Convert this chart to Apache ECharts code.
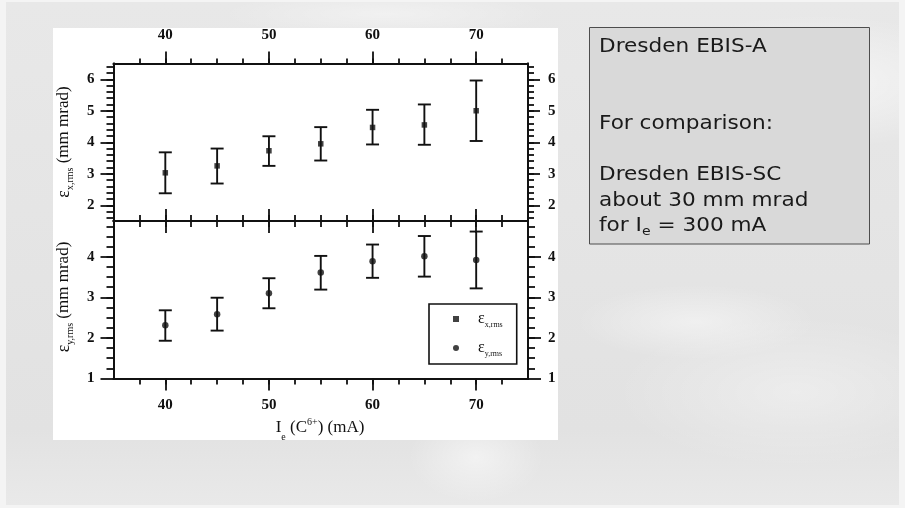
<!DOCTYPE html>
<html>
<head>
<meta charset="utf-8">
<script src="https://cdn.jsdelivr.net/npm/echarts@6/dist/echarts.min.js"></script>
<style>
  html, body { margin: 0; padding: 0; width: 905px; height: 508px; overflow: hidden; background: #f4f4f4; }
  #slide {
    position: absolute; left: 6px; top: 2px; width: 893px; height: 503px;
    background:
      radial-gradient(ellipse 240px 90px at 810px 80px, rgba(255,255,255,0.6), rgba(255,255,255,0) 75%),
      radial-gradient(ellipse 160px 50px at 690px 320px, rgba(255,255,255,0.45), rgba(255,255,255,0) 75%),
      radial-gradient(ellipse 240px 100px at 790px 390px, rgba(255,255,255,0.35), rgba(255,255,255,0) 75%),
      radial-gradient(ellipse 90px 60px at 470px 455px, rgba(255,255,255,0.5), rgba(255,255,255,0) 75%),
      radial-gradient(ellipse 220px 30px at 380px 12px, rgba(255,255,255,0.4), rgba(255,255,255,0) 75%),
      linear-gradient(180deg, #e8e8e8 0%, #e4e4e4 55%, #e2e2e2 85%, #e9e9e9 100%);
  }
  #panel { position: absolute; left: 53px; top: 28px; width: 505px; height: 412px; background: #ffffff; }
  #chart { position: absolute; left: 0; top: 0; width: 905px; height: 508px; }
</style>
</head>
<body>
<div id="slide"></div>
<div id="panel"></div>
<div id="chart"></div>
<script>
// Electron current I_e (mA)
const currents = [40, 45, 50, 55, 60, 65, 70];

// Horizontal rms emittance (mm mrad) with error-bar limits
const emitX     = [3.03, 3.25, 3.73, 3.95, 4.47, 4.55, 5.00];
const emitXLow  = [2.38, 2.69, 3.25, 3.42, 3.93, 3.92, 4.04];
const emitXHigh = [3.68, 3.80, 4.19, 4.48, 5.03, 5.20, 5.96];

// Vertical rms emittance (mm mrad) with error-bar limits
const emitY     = [2.31, 2.58, 3.10, 3.61, 3.89, 4.01, 3.92];
const emitYLow  = [1.93, 2.18, 2.73, 3.19, 3.48, 3.51, 3.22];
const emitYHigh = [2.68, 2.99, 3.47, 4.02, 4.30, 4.51, 4.62];

// Tick labels
const xTickLabels = [40, 50, 60, 70];
const yTopTickLabels = [2, 3, 4, 5, 6];
const yBottomTickLabels = [1, 2, 3, 4];

const INK = '#111111';
const SERIF = '"Liberation Serif", "DejaVu Serif", serif';
const SANS = '"DejaVu Sans", Verdana, sans-serif';

function steps(a, b, s) {
  const out = [];
  for (let v = a; v <= b + 1e-9; v += s) out.push(+v.toFixed(4));
  return out;
}
const xMinor = steps(37.5, 72.5, 2.5);
const yTopMinor = steps(1.6, 6.4, 0.2);
const yBottomMinor = steps(1.25, 4.75, 0.25);

const lineStyle = { color: INK, width: 1.8 };
const labelStyle = { color: INK, fontFamily: SERIF, fontSize: 15, fontWeight: 'bold' };

function xAxis(grid, position, ticks, len, inside, labels, margin) {
  return {
    type: 'value', gridIndex: grid, position, min: 35, max: 75,
    axisLine: { show: true, onZero: false, lineStyle },
    axisTick: { show: true, inside, length: len, customValues: ticks, lineStyle },
    axisLabel: labels ? Object.assign({ show: true, customValues: labels, margin }, labelStyle) : { show: false },
    splitLine: { show: false }
  };
}
function yAxis(grid, position, min, max, ticks, len, labels, margin) {
  return {
    type: 'value', gridIndex: grid, position, min, max,
    axisLine: { show: true, onZero: false, lineStyle },
    axisTick: { show: true, inside: false, length: len, customValues: ticks, lineStyle },
    axisLabel: labels ? Object.assign({ show: true, customValues: labels, margin }, labelStyle) : { show: false },
    splitLine: { show: false }
  };
}

const xAxes = [
  // upper panel
  xAxis(0, 'top', xTickLabels, 12, false, xTickLabels, 21),
  xAxis(0, 'top', xMinor, 5, false, null),
  xAxis(0, 'bottom', xTickLabels, 12, true, null),
  xAxis(0, 'bottom', xMinor, 6, true, null),
  // lower panel
  xAxis(1, 'top', xTickLabels, 12, true, null),
  xAxis(1, 'top', xMinor, 6, true, null),
  xAxis(1, 'bottom', xTickLabels, 12, false, xTickLabels, 19),
  xAxis(1, 'bottom', xMinor, 6, false, null)
];
const yAxes = [
  // upper panel
  yAxis(0, 'left', 1.5, 6.5, yTopTickLabels, 13, yTopTickLabels, 19),
  yAxis(0, 'left', 1.5, 6.5, yTopMinor, 7, null),
  yAxis(0, 'right', 1.5, 6.5, yTopTickLabels, 12, yTopTickLabels, 20),
  yAxis(0, 'right', 1.5, 6.5, yTopMinor, 6, null),
  // lower panel
  yAxis(1, 'left', 1, 4.88, yBottomTickLabels, 13, yBottomTickLabels, 19),
  yAxis(1, 'left', 1, 4.88, yBottomMinor, 7, null),
  yAxis(1, 'right', 1, 4.88, yBottomTickLabels, 13, yBottomTickLabels, 20),
  yAxis(1, 'right', 1, 4.88, yBottomMinor, 7, null)
];

function errorBars(params, api) {
  const x = api.value(0);
  const lo = api.coord([x, api.value(1)]);
  const hi = api.coord([x, api.value(2)]);
  const cap = 6.5;
  const style = { stroke: INK, lineWidth: 1.9 };
  return {
    type: 'group',
    children: [
      { type: 'line', shape: { x1: hi[0], y1: hi[1], x2: lo[0], y2: lo[1] }, style },
      { type: 'line', shape: { x1: hi[0] - cap, y1: hi[1], x2: hi[0] + cap, y2: hi[1] }, style },
      { type: 'line', shape: { x1: lo[0] - cap, y1: lo[1], x2: lo[0] + cap, y2: lo[1] }, style }
    ]
  };
}

const nameX = 'ε x,rms';
const nameY = 'ε y,rms';

const titleRich = {
  e: { fontSize: 18, fontFamily: SERIF, fill: INK },
  s: { fontSize: 10, fontFamily: SERIF, fill: INK, padding: [13, 0, 0, 0] },
  t: { fontSize: 17, fontFamily: SERIF, fill: INK },
  p: { fontSize: 10, fontFamily: SERIF, fill: INK, padding: [0, 0, 12, 0] },
  b: { fontSize: 10, fontFamily: SERIF, fill: INK, padding: [18, 0, 0, 0] }
};

const option = {
  animation: false,
  grid: [
    { left: 113.5, top: 63.5, width: 414.5, height: 157.5 },
    { left: 113.5, top: 221, width: 414.5, height: 157.5 }
  ],
  xAxis: xAxes,
  yAxis: yAxes,
  legend: {
    data: [{ name: nameX, icon: 'rect' }, { name: nameY, icon: 'circle' }],
    orient: 'vertical',
    left: 429, top: 304,
    itemWidth: 6, itemHeight: 6, itemGap: 11,
    padding: [7, 14, 6, 24],
    borderColor: INK, borderWidth: 1.6,
    selectedMode: false,
    formatter: n => n === nameX ? '{g|}{e|ε}{s|x,rms}' : '{g|}{e|ε}{s|y,rms}',
    textStyle: {
      color: INK, fontFamily: SERIF,
      rich: {
        g: { width: 14 },
        e: { fontSize: 16, fontFamily: SERIF, color: INK },
        s: { fontSize: 8, fontFamily: SERIF, color: INK, padding: [12, 0, 0, 0] }
      }
    }
  },
  series: [
    {
      name: 'x error', type: 'custom', xAxisIndex: 0, yAxisIndex: 0,
      renderItem: errorBars, encode: { x: 0, y: [1, 2] }, z: 2,
      data: currents.map((c, i) => [c, emitXLow[i], emitXHigh[i]])
    },
    {
      name: nameX, type: 'scatter', xAxisIndex: 0, yAxisIndex: 0,
      symbol: 'rect', symbolSize: 5.5, itemStyle: { color: INK }, z: 3,
      data: currents.map((c, i) => [c, emitX[i]])
    },
    {
      name: 'y error', type: 'custom', xAxisIndex: 4, yAxisIndex: 4,
      renderItem: errorBars, encode: { x: 0, y: [1, 2] }, z: 2,
      data: currents.map((c, i) => [c, emitYLow[i], emitYHigh[i]])
    },
    {
      name: nameY, type: 'scatter', xAxisIndex: 4, yAxisIndex: 4,
      symbol: 'circle', symbolSize: 6.5, itemStyle: { color: INK }, z: 3,
      data: currents.map((c, i) => [c, emitY[i]])
    }
  ],
  graphic: [
    // axis titles
    {
      type: 'text', x: 64, y: 142, rotation: Math.PI / 2,
      style: {
        text: '{e|ε}{s|x,rms}{t| (mm mrad)}',
        align: 'center', verticalAlign: 'middle', textAlign: 'center', textVerticalAlign: 'middle',
        fill: INK, rich: titleRich
      }
    },
    {
      type: 'text', x: 64, y: 297, rotation: Math.PI / 2,
      style: {
        text: '{e|ε}{s|y,rms}{t| (mm mrad)}',
        align: 'center', verticalAlign: 'middle', textAlign: 'center', textVerticalAlign: 'middle',
        fill: INK, rich: titleRich
      }
    },
    {
      type: 'text', x: 320, y: 428,
      style: {
        text: '{t|I}{b|e}{t| (C}{p|6+}{t|) (mA)}',
        align: 'center', verticalAlign: 'middle', textAlign: 'center', textVerticalAlign: 'middle',
        fill: INK, rich: titleRich
      }
    },
    // note box
    {
      type: 'rect', shape: { x: 589.5, y: 27.5, width: 280, height: 216.5 },
      style: { fill: '#d9d9d9', stroke: '#4d4d4d', lineWidth: 1 }
    },
    {
      type: 'group', x: 599, y: 0, scaleX: 1.08,
      children: [
        { type: 'text', x: 0, y: 47, style: { text: 'Dresden EBIS-A', fontSize: 20, fontFamily: SANS, fill: '#1a1a1a', verticalAlign: 'middle', textVerticalAlign: 'middle' } },
        { type: 'text', x: 0, y: 124, style: { text: 'For comparison:', fontSize: 20, fontFamily: SANS, fill: '#1a1a1a', verticalAlign: 'middle', textVerticalAlign: 'middle' } },
        { type: 'text', x: 0, y: 175, style: { text: 'Dresden EBIS-SC', fontSize: 20, fontFamily: SANS, fill: '#1a1a1a', verticalAlign: 'middle', textVerticalAlign: 'middle' } },
        { type: 'text', x: 0, y: 200.5, style: { text: 'about 30 mm mrad', fontSize: 20, fontFamily: SANS, fill: '#1a1a1a', verticalAlign: 'middle', textVerticalAlign: 'middle' } },
        {
          type: 'text', x: 0, y: 226,
          style: {
            text: '{t|for I}{s|e}{t| = 300 mA}', fill: '#1a1a1a', verticalAlign: 'middle', textVerticalAlign: 'middle',
            rich: {
              t: { fontSize: 20, fontFamily: SANS, fill: '#1a1a1a' },
              s: { fontSize: 13, fontFamily: SANS, fill: '#1a1a1a', padding: [12, 0, 0, 0] }
            }
          }
        }
      ]
    }
  ]
};

const chart = echarts.init(document.getElementById('chart'), null, { renderer: 'canvas' });
chart.setOption(option);
</script>
</body>
</html>
